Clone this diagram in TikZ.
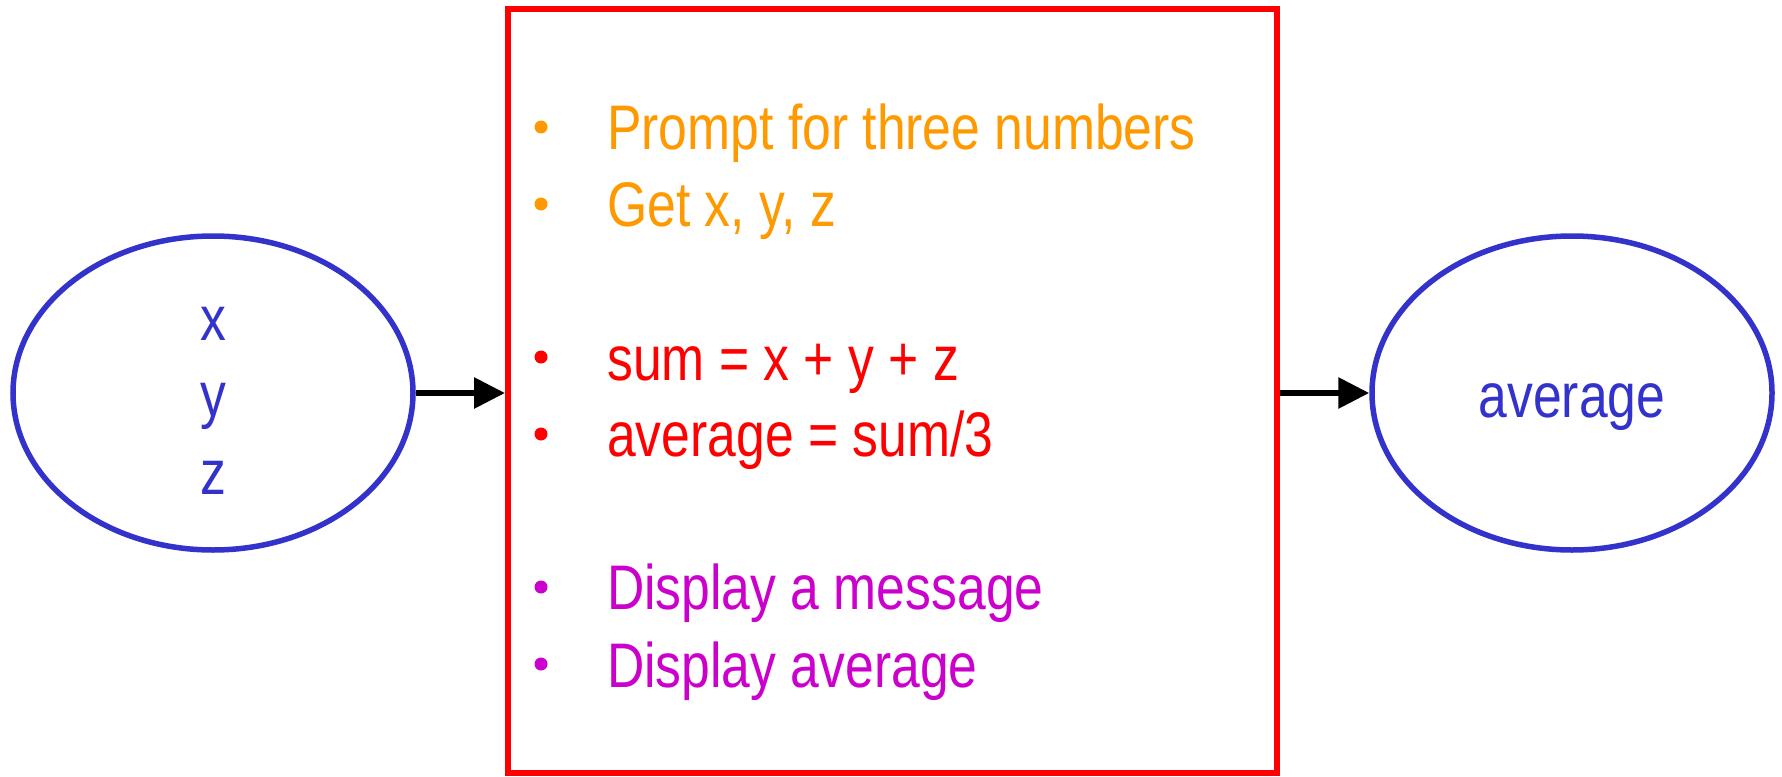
\documentclass[tikz,border=0pt]{standalone}
\usepackage{fontspec}
\setmainfont{Liberation Sans}[FakeStretch=0.82]
\usetikzlibrary{shapes.geometric,arrows.meta}
\definecolor{ovalblue}{HTML}{3333CC}
\definecolor{promptorange}{HTML}{FF9900}
\definecolor{calcred}{HTML}{FF0000}
\definecolor{showmagenta}{HTML}{CC00CC}

\begin{document}
\begin{tikzpicture}[x=1pt,y=-1pt,
  oval/.style={draw=ovalblue,line width=5.5pt,ellipse,minimum width=400pt,minimum height=314pt,inner sep=0pt},
  prog/.style={draw=calcred,line width=6pt,minimum width=769pt,minimum height=763pt,inner sep=0pt},
  txt/.style={anchor=base west,inner sep=0pt,font=\fontsize{63}{77}\selectfont},
  var/.style={anchor=base,inner sep=0pt,text=ovalblue,font=\fontsize{63}{77}\selectfont},
  flow/.style={line width=6pt,-{Triangle[length=31pt,width=30pt]}}]
  \useasboundingbox (0,0) rectangle (1782,776);
  % inputs, program box, output
  \node[oval] (inp) at (213,393) {};
  \node[var] (vx) at (213,340) {x};
  \node[var] (vy) at (213,416) {y};
  \node[var] (vz) at (213,494) {z};
  \node[prog] (box) at (892.5,391) {};
  \node[oval] (outp) at (1572,393) {};
  \node[var] (avg) at (1572,417) {average};
  \draw[flow] (inp.east) -- (inp.east -| box.west);
  \draw[flow] (box.east |- outp.west) -- (outp.west);
  % steps
  \fill[promptorange] (541,127) circle (6.5pt);
  \node[txt,text=promptorange] (s1) at (607,149) {Prompt for three numbers};
  \fill[promptorange] (541,204) circle (6.5pt);
  \node[txt,text=promptorange] (s2) at (607,226) {Get x, y, z};
  \fill[calcred] (541,357) circle (6.5pt);
  \node[txt,text=calcred] (s3) at (607,380) {sum = x + y + z};
  \fill[calcred] (541,434) circle (6.5pt);
  \node[txt,text=calcred] (s4) at (607,456) {average = sum/3};
  \fill[showmagenta] (541,587) circle (6.5pt);
  \node[txt,text=showmagenta] (s5) at (607,609) {Display a message};
  \fill[showmagenta] (541,664) circle (6.5pt);
  \node[txt,text=showmagenta] (s6) at (607,687) {Display average};
\end{tikzpicture}
\end{document}
